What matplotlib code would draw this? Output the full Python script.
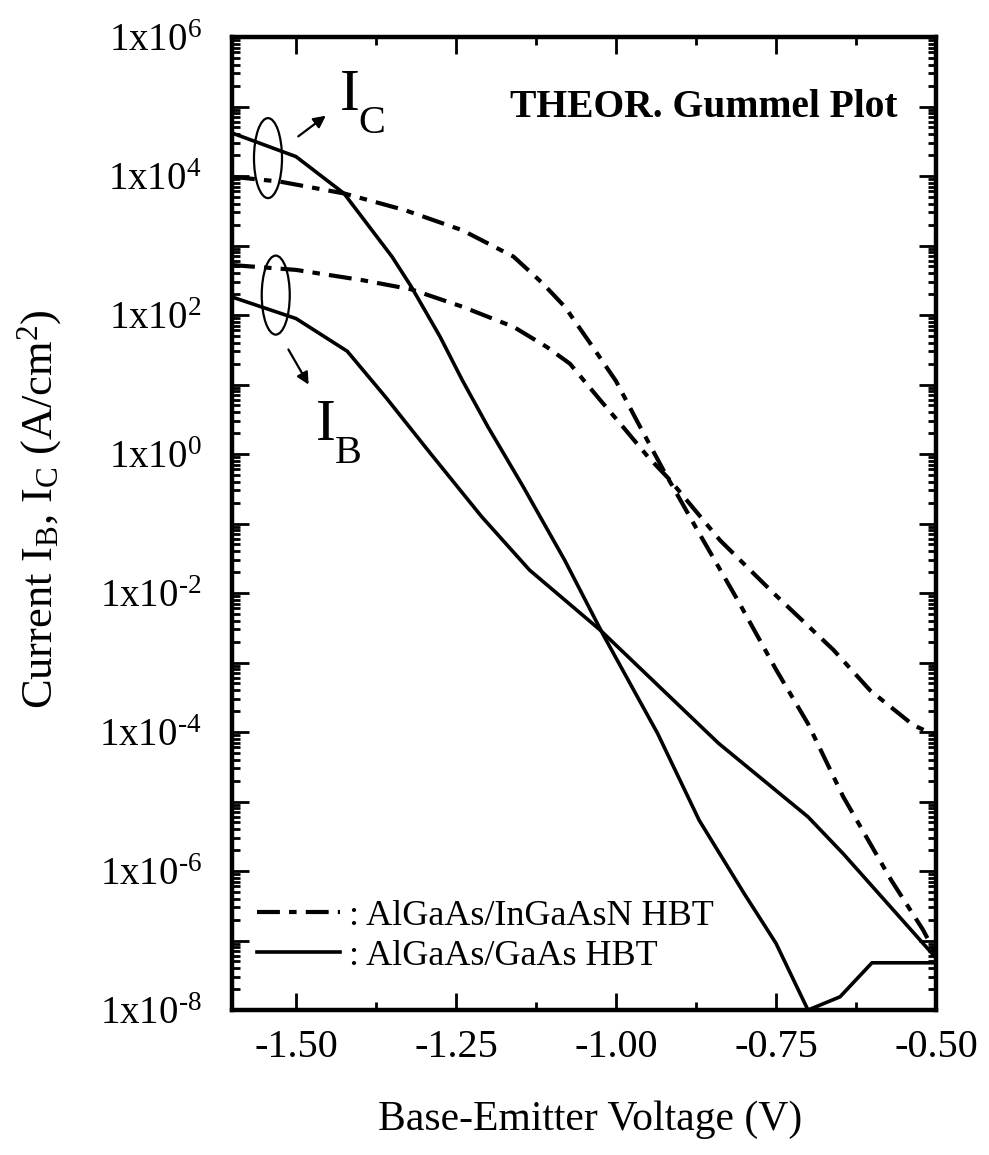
import numpy as np
import matplotlib
matplotlib.use("Agg")
import matplotlib.pyplot as plt
from matplotlib.patches import Ellipse
from matplotlib.lines import Line2D
from matplotlib.ticker import LogLocator, FuncFormatter, MultipleLocator, FixedLocator, NullFormatter

plt.rcParams['font.family'] = ['Liberation Serif', 'DejaVu Serif']
plt.rcParams['mathtext.fontset'] = 'custom'
plt.rcParams['mathtext.rm'] = 'Liberation Serif'
plt.rcParams['mathtext.it'] = 'Liberation Serif:italic'
plt.rcParams['mathtext.bf'] = 'Liberation Serif:bold'

#----------------------------------------------------------------------
# data (log10 of current density, A/cm^2)
#----------------------------------------------------------------------
# AlGaAs/GaAs HBT, collector current
v_ic_gaas = [-1.60, -1.50, -1.425, -1.35, -1.32, -1.275, -1.24, -1.20, -1.145,
             -1.08, -1.02, -0.935, -0.87, -0.80, -0.75, -0.70, -0.65, -0.60, -0.50]
log_ic_gaas = [4.62, 4.28, 3.75, 2.84, 2.41, 1.69, 1.06, 0.39, -0.47,
               -1.53, -2.60, -4.02, -5.27, -6.32, -7.04, -8.00, -7.81, -7.32, -7.32]

# AlGaAs/GaAs HBT, base current
v_ib_gaas = [-1.60, -1.50, -1.42, -1.36, -1.29, -1.21, -1.135, -1.025, -0.84,
             -0.70, -0.645, -0.50]
log_ib_gaas = [2.26, 1.95, 1.48, 0.82, 0.01, -0.90, -1.67, -2.53, -4.16,
               -5.22, -5.75, -7.25]

# AlGaAs/InGaAsN HBT, collector current
v_ic_ingaasn = [-1.60, -1.525, -1.425, -1.33, -1.24, -1.16, -1.115, -1.08, -1.04,
                -1.00, -0.968, -0.926, -0.87, -0.81, -0.75, -0.70, -0.645, -0.57,
                -0.52, -0.50]
log_ic_ingaasn = [3.99, 3.92, 3.75, 3.51, 3.22, 2.84, 2.46, 2.12, 1.59,
                  1.05, 0.49, -0.23, -1.14, -2.10, -3.10, -3.88, -4.93, -6.13,
                  -6.85, -7.20]

# AlGaAs/InGaAsN HBT, base current
v_ib_ingaasn = [-1.60, -1.50, -1.395, -1.32, -1.24, -1.16, -1.108, -1.072, -1.025,
                -0.989, -0.95, -0.916, -0.8375, -0.754, -0.66, -0.603, -0.5355, -0.50]
log_ib_ingaasn = [2.72, 2.65, 2.50, 2.37, 2.12, 1.83, 1.54, 1.30, 0.78,
                  0.39, -0.04, -0.37, -1.24, -2.00, -2.82, -3.40, -3.90, -4.05]

x_ticks = [-1.50, -1.25, -1.00, -0.75, -0.50]

#----------------------------------------------------------------------
# plot
#----------------------------------------------------------------------
fig = plt.figure(figsize=(9.89, 11.55), dpi=100)
ax = fig.add_axes([0.2346, 0.1255, 0.7118, 0.8424])

dashdot = (0, (5.5, 2.2, 1.8, 2.2))
ax.plot(v_ic_gaas, 10 ** np.array(log_ic_gaas), color='k', lw=2.6)
ax.plot(v_ib_gaas, 10 ** np.array(log_ib_gaas), color='k', lw=2.6)
ax.plot(v_ic_ingaasn, 10 ** np.array(log_ic_ingaasn), color='k', lw=3.0, ls=dashdot)
ax.plot(v_ib_ingaasn, 10 ** np.array(log_ib_ingaasn), color='k', lw=3.0, ls=dashdot)

ax.set_yscale('log')
ax.set_xlim(-1.60, -0.50)
ax.set_ylim(1e-8, 1e6)

ax.xaxis.set_major_locator(FixedLocator(x_ticks))
ax.xaxis.set_major_formatter(FuncFormatter(lambda v, p: '%.2f' % v))
ax.xaxis.set_minor_locator(MultipleLocator(0.125))

ax.yaxis.set_major_locator(LogLocator(base=10, numticks=20))
ax.yaxis.set_minor_locator(LogLocator(base=10, subs=np.arange(2, 10), numticks=20))
ax.yaxis.set_minor_formatter(NullFormatter())

def ylab(v, p):
    e = int(round(np.log10(v)))
    if e % 2:
        return ''
    s = str(e).replace('-', '\u2010')
    return r'$\mathregular{1x10^{%s}}$' % s

ax.yaxis.set_major_formatter(FuncFormatter(ylab))

ax.tick_params(which='both', direction='in', top=True, right=True, width=2, colors='k')
ax.tick_params(which='major', length=12)
ax.tick_params(which='minor', length=6)
ax.tick_params(axis='x', which='major', labelsize=29, pad=14)
ax.tick_params(axis='y', which='major', labelsize=28, pad=22)
for s in ax.spines.values():
    s.set_linewidth(3.2)

ax.set_xlabel('Base-Emitter Voltage (V)', fontsize=30)
ax.xaxis.set_label_coords(0.509, -0.093)
ax.set_ylabel(r'Current I$_\mathregular{B}$, I$_\mathregular{C}$ (A/cm$^\mathregular{2}$)', fontsize=32)
ax.yaxis.set_label_coords(-0.238, 0.515)

ax.text(0.946, 0.918, 'THEOR. Gummel Plot', transform=ax.transAxes, ha='right',
        va='baseline', fontsize=28.5, fontweight='bold')

# I_C / I_B markers
ax.add_patch(Ellipse((0.0511, 0.8756), 0.0398, 0.0822, transform=ax.transAxes,
                     fill=False, lw=1.6, color='k'))
ax.add_patch(Ellipse((0.0621, 0.7348), 0.0398, 0.0812, transform=ax.transAxes,
                     fill=False, lw=1.6, color='k'))
ax.annotate('', xy=(0.1364, 0.9209), xytext=(0.0909, 0.8962), xycoords='axes fraction',
            arrowprops=dict(arrowstyle='-|>', lw=1.6, color='k', mutation_scale=18))
ax.annotate('', xy=(0.1108, 0.6403), xytext=(0.0781, 0.6814), xycoords='axes fraction',
            arrowprops=dict(arrowstyle='-|>', lw=1.6, color='k', mutation_scale=18))
ax.text(0.1534, 0.925, 'I', transform=ax.transAxes, fontsize=43, ha='left', va='baseline')
ax.text(0.1795, 0.9014, 'C', transform=ax.transAxes, fontsize=29, ha='left', va='baseline')
ax.text(0.1193, 0.5858, 'I', transform=ax.transAxes, fontsize=43, ha='left', va='baseline')
ax.text(0.1463, 0.5622, 'B', transform=ax.transAxes, fontsize=29, ha='left', va='baseline')

handles = [Line2D([], [], color='k', lw=3.0, ls=dashdot),
           Line2D([], [], color='k', lw=2.6)]
labels = [': AlGaAs/InGaAsN HBT', ': AlGaAs/GaAs HBT']
ax.legend(handles, labels, loc='lower left', bbox_to_anchor=(0.035, 0.038), frameon=False,
          fontsize=26, handlelength=2.3, handletextpad=0.25, labelspacing=0.2,
          borderaxespad=0, borderpad=0)

fig.savefig('out.png', dpi=100)
